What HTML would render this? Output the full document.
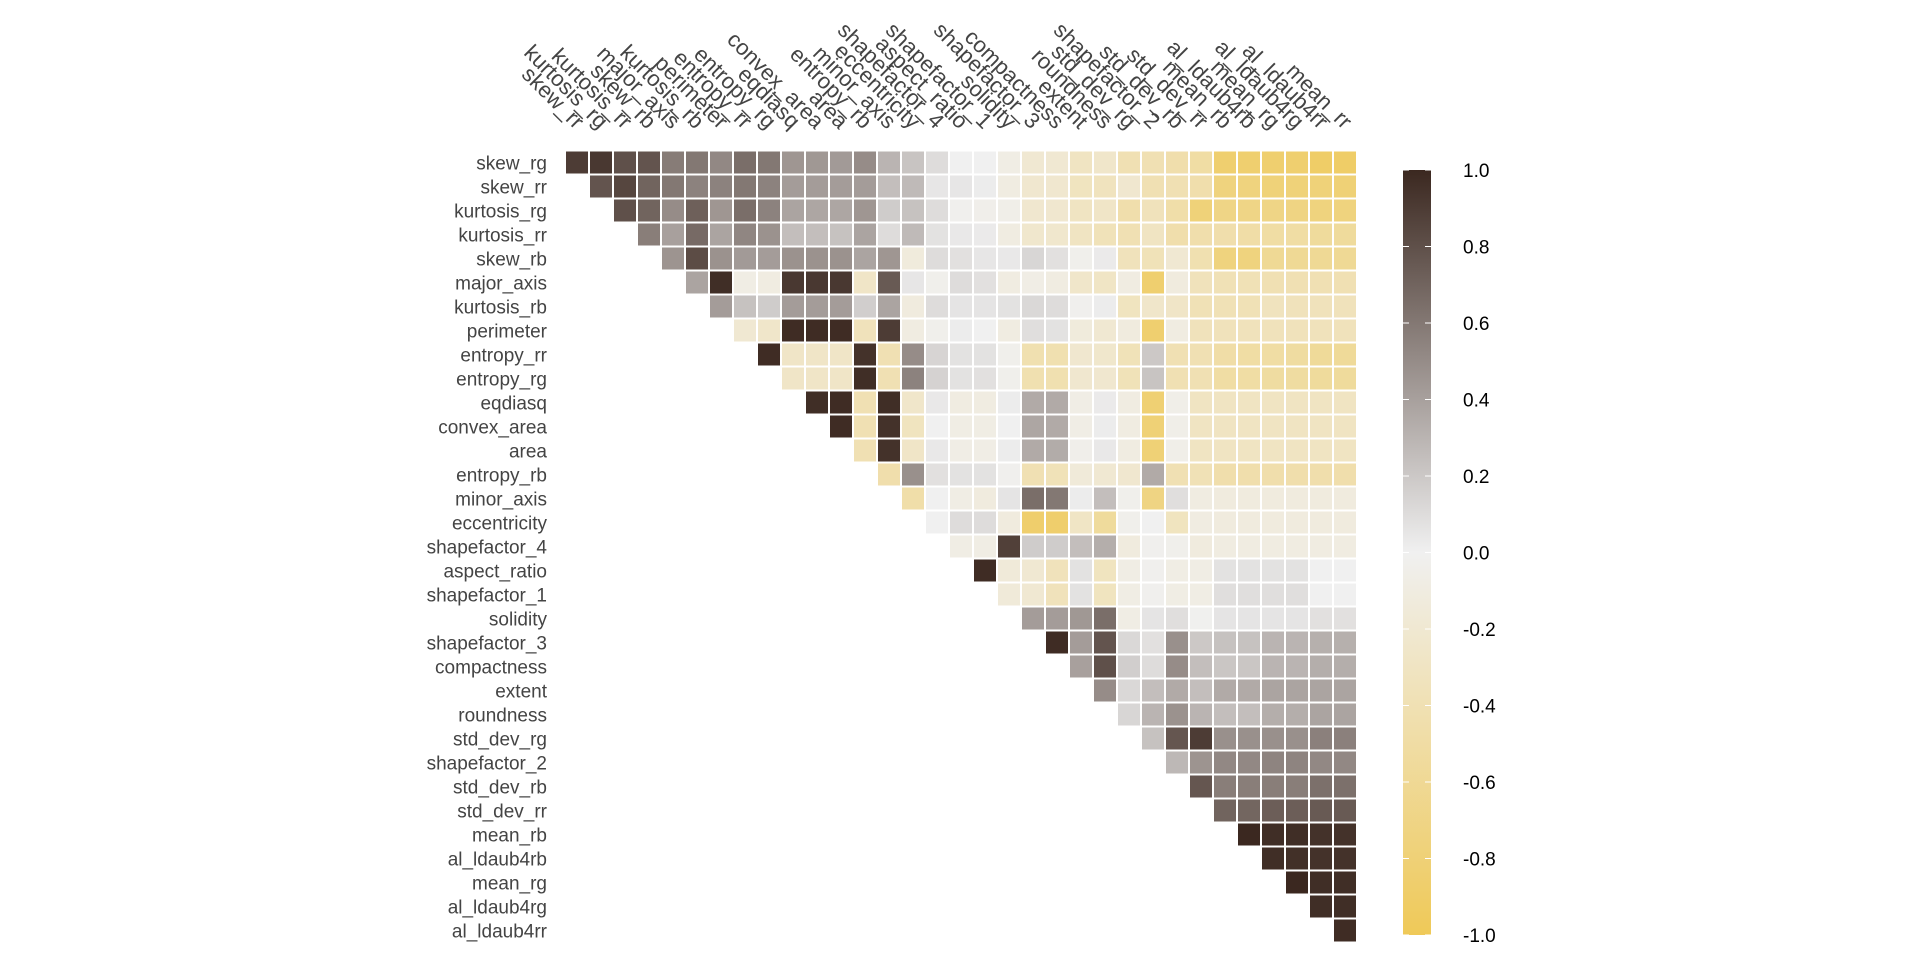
<!DOCTYPE html>
<html><head><meta charset="utf-8"><style>
html,body{margin:0;padding:0;background:#fff;}
svg{display:block;font-family:"Liberation Sans",Arial,sans-serif;}
</style></head><body>
<svg id="chart" width="1920" height="960" viewBox="0 0 1920 960" xmlns="http://www.w3.org/2000/svg">
<defs>
<linearGradient id="lg" x1="0" y1="0" x2="0" y2="1">
<stop offset="0" stop-color="#3B2820"/><stop offset="0.5" stop-color="#F0F0F0"/><stop offset="1" stop-color="#EFC958"/>
</linearGradient>
</defs>
<g id="cells"></g>
<g id="rowlabels"></g>
<g id="collabels"></g>
<g id="legend">
<rect x="1403" y="170" width="28" height="765" fill="url(#lg)"/>
</g>
</svg>
<script>
const rowNames = ["skew_rg","skew_rr","kurtosis_rg","kurtosis_rr","skew_rb","major_axis","kurtosis_rb","perimeter","entropy_rr","entropy_rg","eqdiasq","convex_area","area","entropy_rb","minor_axis","eccentricity","shapefactor_4","aspect_ratio","shapefactor_1","solidity","shapefactor_3","compactness","extent","roundness","std_dev_rg","shapefactor_2","std_dev_rb","std_dev_rr","mean_rb","al_ldaub4rb","mean_rg","al_ldaub4rg","al_ldaub4rr"];
const colNames = ["skew_rr","kurtosis_rg","kurtosis_rr","skew_rb","major_axis","kurtosis_rb","perimeter","entropy_rr","entropy_rg","eqdiasq","convex_area","area","entropy_rb","minor_axis","eccentricity","shapefactor_4","aspect_ratio","shapefactor_1","solidity","shapefactor_3","compactness","extent","roundness","std_dev_rg","shapefactor_2","std_dev_rb","std_dev_rr","mean_rb","al_ldaub4rb","mean_rg","al_ldaub4rg","al_ldaub4rr","mean_rr"];
// each row i lists correlations for columns i..32
const corrRows = [
[0.9,0.92,0.8,0.78,0.58,0.6,0.52,0.65,0.6,0.45,0.44,0.43,0.5,0.3,0.22,0.1,0,0,-0.08,-0.2,-0.2,-0.3,-0.25,-0.4,-0.4,-0.45,-0.5,-0.85,-0.85,-0.85,-0.85,-0.9,-0.9],
[0.78,0.85,0.7,0.6,0.55,0.55,0.6,0.55,0.42,0.42,0.42,0.42,0.25,0.27,0.05,0.05,0.02,-0.1,-0.22,-0.22,-0.32,-0.33,-0.22,-0.4,-0.4,-0.45,-0.75,-0.75,-0.78,-0.78,-0.78,-0.8],
[0.8,0.7,0.5,0.72,0.45,0.65,0.55,0.38,0.37,0.37,0.45,0.18,0.23,0.1,-0.02,-0.04,-0.05,-0.22,-0.22,-0.3,-0.27,-0.45,-0.35,-0.47,-0.78,-0.7,-0.7,-0.7,-0.72,-0.75,-0.75],
[0.57,0.4,0.67,0.38,0.53,0.47,0.25,0.25,0.23,0.38,0.1,0.27,0.07,0.04,0.03,-0.1,-0.23,-0.23,-0.3,-0.36,-0.4,-0.3,-0.45,-0.45,-0.45,-0.48,-0.5,-0.5,-0.55,-0.55],
[0.46,0.82,0.47,0.43,0.42,0.47,0.47,0.47,0.38,0.45,-0.13,0.1,0.08,0.05,0.04,0.13,0.08,-0.03,0.03,-0.35,-0.37,-0.2,-0.42,-0.75,-0.75,-0.6,-0.6,-0.6,-0.6],
[0.38,0.97,-0.08,-0.1,0.92,0.92,0.92,-0.27,0.75,0.05,-0.03,0.1,0.08,-0.1,-0.07,-0.1,-0.25,-0.28,-0.1,-0.85,-0.12,-0.35,-0.38,-0.38,-0.4,-0.4,-0.4,-0.4],
[0.42,0.23,0.18,0.42,0.42,0.42,0.17,0.38,-0.12,0.1,0.06,0.06,0.07,0.12,0.1,-0.02,0.02,-0.32,-0.25,-0.27,-0.38,-0.38,-0.38,-0.33,-0.35,-0.35,-0.35],
[-0.2,-0.25,0.98,0.98,0.98,-0.35,0.9,-0.1,-0.03,0.02,0,-0.1,0.09,0.07,-0.13,-0.2,-0.12,-0.85,-0.1,-0.35,-0.35,-0.35,-0.35,-0.35,-0.35,-0.35],
[0.98,-0.27,-0.27,-0.27,0.95,-0.4,0.5,0.14,0.07,0.07,-0.03,-0.42,-0.42,-0.22,-0.24,-0.37,0.2,-0.4,-0.4,-0.48,-0.5,-0.5,-0.52,-0.57,-0.57],
[-0.27,-0.27,-0.27,0.97,-0.4,0.55,0.15,0.07,0.08,-0.03,-0.42,-0.42,-0.22,-0.22,-0.37,0.22,-0.4,-0.4,-0.5,-0.5,-0.52,-0.52,-0.55,-0.55],
[0.97,0.98,-0.4,0.97,-0.25,0.04,-0.1,-0.1,0.02,0.35,0.35,-0.07,0.03,-0.1,-0.82,-0.05,-0.3,-0.3,-0.3,-0.3,-0.3,-0.3,-0.3],
[0.98,-0.4,0.95,-0.32,0,-0.08,-0.08,0,0.37,0.35,-0.07,0.02,-0.1,-0.8,-0.05,-0.3,-0.3,-0.3,-0.3,-0.3,-0.3,-0.3],
[-0.4,0.95,-0.27,0.04,-0.07,-0.07,0.02,0.35,0.34,-0.04,0.04,-0.1,-0.8,-0.05,-0.3,-0.3,-0.3,-0.3,-0.3,-0.3,-0.3],
[-0.45,0.48,0.08,0.07,0.07,-0.02,-0.4,-0.37,-0.15,-0.2,-0.22,0.35,-0.4,-0.38,-0.45,-0.45,-0.45,-0.45,-0.45,-0.45],
[-0.47,0,-0.08,-0.12,0.06,0.65,0.6,0.02,0.25,-0.03,-0.72,0.09,-0.1,-0.12,-0.12,-0.12,-0.12,-0.12,-0.12],
[0,0.1,0.1,-0.12,-0.87,-0.87,-0.28,-0.55,-0.03,0,-0.32,-0.1,-0.12,-0.12,-0.12,-0.12,-0.12,-0.12],
[-0.08,-0.08,0.88,0.18,0.18,0.25,0.33,-0.12,-0.02,-0.03,-0.12,-0.1,-0.1,-0.1,-0.1,-0.1,-0.1],
[0.98,-0.15,-0.2,-0.35,0.07,-0.32,-0.08,-0.02,-0.08,-0.08,0.07,0.07,0.07,0.07,0,0],
[-0.15,-0.2,-0.35,0.07,-0.32,-0.08,-0.02,-0.08,-0.08,0.09,0.09,0.09,0.09,0,0],
[0.42,0.42,0.44,0.65,-0.08,0.06,0.09,-0.01,0.06,0.06,0.06,0.06,0.08,0.08],
[0.98,0.42,0.78,0.12,0.08,0.48,0.2,0.23,0.23,0.3,0.3,0.32,0.32],
[0.4,0.8,0.17,0.1,0.5,0.25,0.21,0.21,0.3,0.3,0.33,0.33],
[0.5,0.12,0.25,0.35,0.25,0.35,0.35,0.38,0.38,0.38,0.38],
[0.13,0.3,0.47,0.3,0.25,0.25,0.33,0.33,0.38,0.38],
[0.23,0.77,0.9,0.48,0.48,0.48,0.48,0.56,0.56],
[0.28,0.46,0.52,0.52,0.54,0.54,0.52,0.52],
[0.77,0.57,0.57,0.57,0.57,0.64,0.64],
[0.7,0.69,0.73,0.73,0.75,0.75],
[1.0,0.97,0.97,0.95,0.95],
[0.97,0.96,0.95,0.95],
[1.0,0.97,0.97],
[0.97,0.97],
[0.98]
];
const legendTicks = [1.0,0.8,0.6,0.4,0.2,0.0,-0.2,-0.4,-0.6,-0.8,-1.0];
const legendTickLabels = ["1.0","0.8","0.6","0.4","0.2","0.0","-0.2","-0.4","-0.6","-0.8","-1.0"];

const NS="http://www.w3.org/2000/svg";
const X0=565, Y0=150.5, CELL=24;
const xPos = j => X0 + j*CELL;
const yPos = i => Y0 + i*CELL;
const legTop=170, legBot=935;
const legY = v => legTop + (1 - v)/2*(legBot-legTop);
const DARK=[59,40,32], MID=[240,240,240], LOW=[239,201,88];
function color(v){
  const a = MID, b = v>=0 ? DARK : LOW, t=Math.min(1,Math.abs(v));
  const c=a.map((x,k)=>Math.round(x+(b[k]-x)*t));
  return "rgb("+c.join(",")+")";
}
const cells=document.getElementById("cells");
corrRows.forEach((row,i)=>{
  row.forEach((v,k)=>{
    const j=i+k;
    const r=document.createElementNS(NS,"rect");
    r.setAttribute("x",xPos(j)+1);
    r.setAttribute("y",yPos(i)+1);
    r.setAttribute("width",CELL-2);
    r.setAttribute("height",CELL-2);
    r.setAttribute("fill",color(v));
    
    
    cells.appendChild(r);
  });
});
const rl=document.getElementById("rowlabels");
rowNames.forEach((n,i)=>{
  const t=document.createElementNS(NS,"text");
  t.setAttribute("x",547);
  t.setAttribute("y",yPos(i)+CELL/2+7);
  t.setAttribute("text-anchor","end");
  t.setAttribute("font-size","19");
  t.setAttribute("fill","#444");
  t.textContent=n;
  
  
  rl.appendChild(t);
});
const cl=document.getElementById("collabels");
colNames.forEach((n,j)=>{
  const t=document.createElementNS(NS,"text");
  const cx=xPos(j)+CELL/2-2, cy=130;
  t.setAttribute("x",cx);
  t.setAttribute("y",cy);
  t.setAttribute("text-anchor","end");
  t.setAttribute("font-size","22");
  t.setAttribute("fill","#444");
  t.setAttribute("transform","rotate(45 "+cx+" "+cy+")");
  t.textContent=n;
  
  
  cl.appendChild(t);
});
const lg=document.getElementById("legend");
legendTicks.forEach((v,k)=>{
  const y=legY(v);
  [[1403,1409],[1425,1431]].forEach(p=>{
    const l=document.createElementNS(NS,"line");
    l.setAttribute("x1",p[0]);l.setAttribute("x2",p[1]);
    l.setAttribute("y1",y);l.setAttribute("y2",y);
    l.setAttribute("stroke","#fff");l.setAttribute("stroke-width","1");
    
    
    lg.appendChild(l);
  });
  const t=document.createElementNS(NS,"text");
  t.setAttribute("x",1463);
  t.setAttribute("y",y+7);
  t.setAttribute("font-size","19");
  t.setAttribute("fill","#000");
  t.textContent=legendTickLabels[k];
  
  
  lg.appendChild(t);
});
</script>
</body></html>
